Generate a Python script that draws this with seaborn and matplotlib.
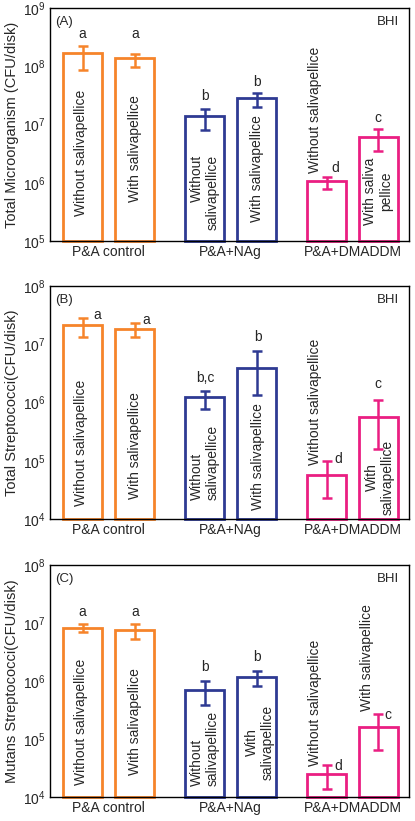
import numpy as np
import pandas as pd
import matplotlib
matplotlib.use("Agg")
import matplotlib.pyplot as plt
import seaborn as sns

# ---- data ----
groups = ["P&A control", "P&A+NAg", "P&A+DMADDM"]
pellicle = ["Without salivapellice", "With salivapellice"]
colors = ["#F6842A", "#2E3A93", "#EA1E82"]

panel_tags = ["(A)", "(B)", "(C)"]
ylabels = [
    "Total Microorganism (CFU/disk)",
    "Total Streptococci(CFU/disk)",
    "Mutans Streptococci(CFU/disk)",
]
ylims = [(1e5, 1e9), (1e4, 1e8), (1e4, 1e8)]

# order: control-without, control-with, NAg-without, NAg-with, DMADDM-without, DMADDM-with
mean_A = [1.68e8, 1.36e8, 1.42e7, 2.8e7, 1.08e6, 6.1e6]
lo_A = [8.5e7, 9.8e7, 8.0e6, 2.0e7, 7.8e5, 3.55e6]
hi_A = [2.25e8, 1.6e8, 1.86e7, 3.5e7, 1.25e6, 8.3e6]

mean_B = [2.14e7, 1.85e7, 1.22e6, 3.9e6, 5.8e4, 5.7e5]
lo_B = [1.33e7, 1.35e7, 7.6e5, 1.34e6, 2.3e4, 1.62e5]
hi_B = [2.78e7, 2.34e7, 1.57e6, 7.6e6, 9.8e4, 1.12e6]

mean_C = [8.3e6, 7.6e6, 7.1e5, 1.16e6, 2.45e4, 1.63e5]
lo_C = [7.1e6, 5.25e6, 3.9e5, 8.3e5, 1.37e4, 6.5e4]
hi_C = [9.6e6, 9.8e6, 1.0e6, 1.5e6, 3.5e4, 2.7e5]

letters_A = ["a", "a", "b", "b", "d", "c"]
letters_B = ["a", "a", "b,c", "b", "d", "c"]
letters_C = ["a", "a", "b", "b", "d", "c"]

bar_text_A = ["Without salivapellice", "With salivapellice", "Without\nsalivapellice",
              "With salivapellice", "Without salivapellice", "With saliva\npellice"]
bar_text_B = ["Without salivapellice", "With salivapellice", "Without\nsalivapellice",
              "With salivapellice", "Without salivapellice", "With\nsalivapellice"]
bar_text_C = ["Without salivapellice", "With salivapellice", "Without\nsalivapellice",
              "With\nsalivapellice", "Without salivapellice", "With salivapellice"]

# ---- text placement (x in group units, y as log10) ----
bar_text_pos = [
    [(-0.225, 6.51), (0.217, 6.58), (0.791, 5.84), (1.217, 6.25), (1.693, 7.25), (2.209, 5.86)],
    [(-0.225, 5.305), (0.217, 5.253), (0.791, 4.978), (1.225, 5.064), (1.693, 6.009), (2.225, 4.721)],
    [(-0.225, 5.293), (0.217, 5.293), (0.791, 4.845), (1.242, 4.948), (1.693, 5.621), (2.119, 6.397)],
]
bar_text_align = [
    ["center", "center", "right", "center", "center", "center"],
    ["center", "center", "left", "center", "center", "center"],
    ["center", "center", "left", "center", "center", "center"],
]
letter_pos = [
    [(-0.217, 8.55), (0.217, 8.55), (0.791, 7.49), (1.217, 7.73), (1.857, 6.25), (2.209, 7.11)],
    [(-0.094, 7.502), (0.307, 7.416), (0.791, 6.421), (1.225, 7.124), (1.881, 5.03), (2.209, 6.318)],
    [(-0.217, 7.19), (0.217, 7.19), (0.791, 6.241), (1.217, 6.414), (1.881, 4.534), (2.291, 5.414)],
]
axes_rects = [
    [0.1205, 0.7065, 0.865, 0.2838],
    [0.1205, 0.3678, 0.865, 0.2839],
    [0.1205, 0.0292, 0.865, 0.2826],
]

sns.set_style("ticks")
plt.rcParams["font.family"] = ["Liberation Sans", "DejaVu Sans"]
plt.rcParams["mathtext.fontset"] = "custom"
plt.rcParams["mathtext.rm"] = "Liberation Sans"
plt.rcParams["mathtext.it"] = "Liberation Sans:italic"

means = [mean_A, mean_B, mean_C]
los = [lo_A, lo_B, lo_C]
his = [hi_A, hi_B, hi_C]
letters = [letters_A, letters_B, letters_C]
bar_texts = [bar_text_A, bar_text_B, bar_text_C]

fig = plt.figure(figsize=(4.15, 8.21), dpi=100)

for p in range(3):
    ax = fig.add_axes(axes_rects[p])
    df = pd.DataFrame({
        "group": np.repeat(groups, 2),
        "pellicle": pellicle * 3,
        "value": means[p],
    })
    sns.barplot(data=df, x="group", y="value", hue="pellicle",
                order=groups, hue_order=pellicle, width=0.852, gap=0.25,
                fill=False, linewidth=2, errorbar=None, legend=False,
                log_scale=True, ax=ax)

    # recolor bars by group, start them at the axis floor so the sides show on log scale
    ymin = ylims[p][0]
    bars = sorted(ax.patches, key=lambda b: b.get_x())
    xs = []
    for i, b in enumerate(bars):
        top = b.get_y() + b.get_height()
        b.set_y(ymin)
        b.set_height(top - ymin)
        b.set_edgecolor(colors[i // 2])
        b.set_linewidth(2)
        b.set_clip_on(False)
        xs.append(b.get_x() + b.get_width() / 2)

    m = np.array(means[p])
    yerr = np.vstack([m - np.array(los[p]), np.array(his[p]) - m])
    for i in range(6):
        ax.errorbar(xs[i], m[i], yerr=yerr[:, i:i + 1], fmt="none",
                    ecolor=colors[i // 2], elinewidth=1.8, capsize=3.6, capthick=1.8)

    for i in range(6):
        tx, ty = bar_text_pos[p][i]
        ax.text(tx, 10 ** ty, bar_texts[p][i], rotation=90, ha="center", va="center",
                fontsize=10, linespacing=1.2, multialignment=bar_text_align[p][i])
        lx, ly = letter_pos[p][i]
        ax.text(lx, 10 ** ly, letters[p][i], ha="center", va="center", fontsize=10)

    ax.text(0.014, 0.94, panel_tags[p], transform=ax.transAxes, ha="left", va="center", fontsize=9.5)
    ax.text(0.972, 0.94, "BHI", transform=ax.transAxes, ha="right", va="center", fontsize=9.5)

    ax.set_xlim(-0.48, 2.463)
    ax.set_ylim(*ylims[p])
    ax.set_xlabel("")
    ax.set_ylabel(ylabels[p], fontsize=10.5)
    ax.yaxis.set_label_coords(-0.086, 0.5)
    ax.yaxis.set_minor_locator(matplotlib.ticker.NullLocator())
    ax.tick_params(axis="x", length=0, labelsize=10, pad=3)
    ax.tick_params(axis="y", length=0, labelsize=10, pad=3)
    for s in ax.spines.values():
        s.set_visible(True)
        s.set_linewidth(1.0)
        s.set_color("black")
        s.set_zorder(5)

fig.savefig("out.png", dpi=100)
